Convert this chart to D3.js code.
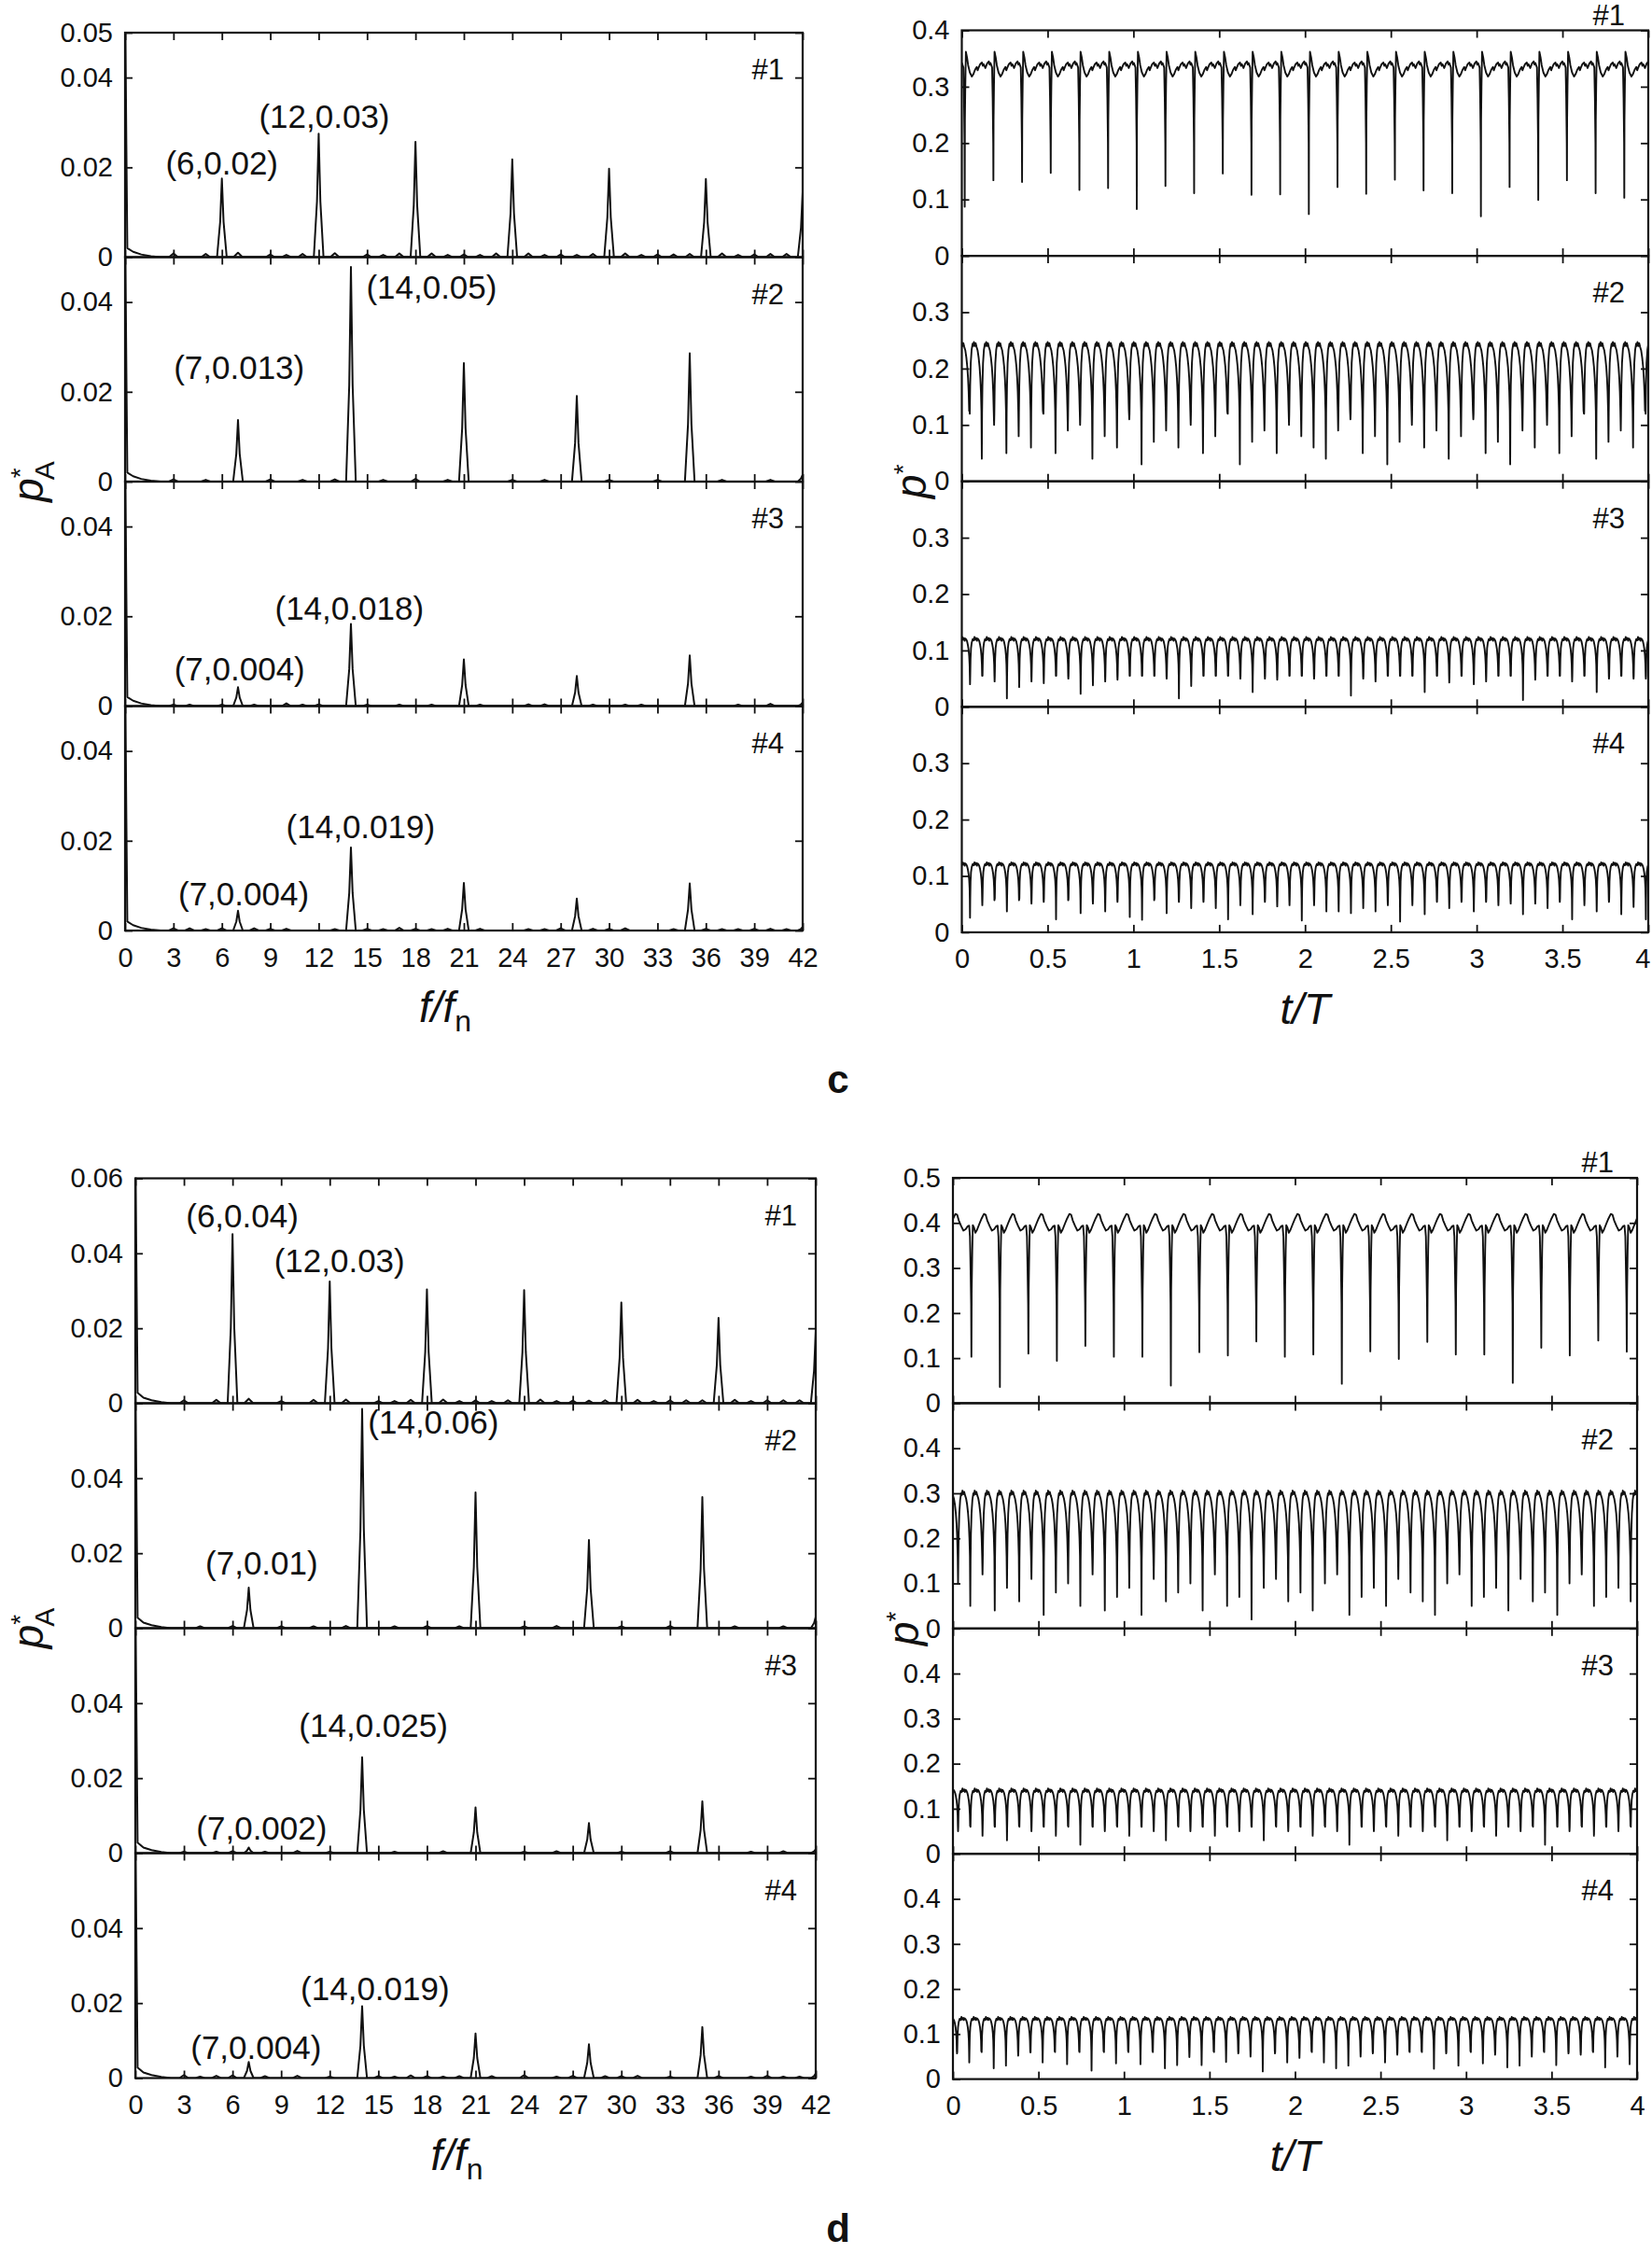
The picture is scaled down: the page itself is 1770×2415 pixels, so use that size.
<!DOCTYPE html>
<html>
<head>
<meta charset="utf-8">
<script src="https://cdn.jsdelivr.net/npm/d3@7"></script>
<style>
  body { margin: 0; background: #fff; }
  svg { display: block; }
</style>
</head>
<body>
<script>
// ---------- data ----------
const specTicks = [0, 3, 6, 9, 12, 15, 18, 21, 24, 27, 30, 33, 36, 39, 42];
const timeTicks = [0, 0.5, 1, 1.5, 2, 2.5, 3, 3.5, 4];

// spectrum peaks [f/fn, pA*] per sub panel #1..#4
const cPeaks = [
  [[6, 0.0175], [12, 0.0275], [18, 0.0257], [24, 0.0218], [30, 0.0197], [36, 0.0174], [42, 0.0145]],
  [[7, 0.0137], [14, 0.0478], [21, 0.0264], [28, 0.0191], [35, 0.0286], [42, 0.0015]],
  [[7, 0.0042], [14, 0.0183], [21, 0.0104], [28, 0.0067], [35, 0.0113], [42, 0.0008]],
  [[7, 0.0044], [14, 0.0185], [21, 0.0106], [28, 0.0071], [35, 0.0105], [42, 0.0008]]
];
const dPeaks = [
  [[6, 0.0451], [12, 0.0325], [18, 0.0304], [24, 0.0302], [30, 0.0269], [36, 0.0228], [42, 0.0192]],
  [[7, 0.0108], [14, 0.0585], [21, 0.0362], [28, 0.0235], [35, 0.0350], [42, 0.0030]],
  [[7, 0.0015], [14, 0.0256], [21, 0.0122], [28, 0.0080], [35, 0.0138], [42, 0.0010]],
  [[7, 0.0043], [14, 0.0192], [21, 0.0119], [28, 0.0090], [35, 0.0136], [42, 0.0012]]
];

// small side lobes [f/fn, pA*]
const cMinor = [
  [[3,.0008],[5,.0007],[7,.001],[9,.0006],[10,.0005],[11,.0007],[13,.0009],[15,.0006],[16,.0005],[17,.0008],[19,.0008],[20,.0005],[21,.0006],[22,.0005],[23,.0008],[25,.0008],[26,.0005],[27,.0006],[28,.0005],[29,.0007],[31,.0008],[32,.0005],[33,.0006],[34,.0006],[35,.0007],[37,.0008],[38,.0005],[39,.0006],[40,.0007],[41,.0007]],
  [[3,.0005],[5,.0004],[9,.0005],[11,.0004],[13,.0005],[16,.0004],[18,.0006],[20,.0004],[24,.0004],[26,.0004],[30,.0004],[33,.0004],[37,.0004],[40,.0004]],
  [[3,.0003],[4,.0003],[6,.0003],[8,.0003],[10,.0006],[11,.0003],[12,.0004],[15,.0003],[17,.0003],[19,.0003],[22,.0003],[25,.0004],[26,.0004],[29,.0003],[31,.0003],[32,.0003],[38,.0003],[40,.0005]],
  [[1,.0003],[3,.0005],[4,.0005],[5,.0003],[6,.0005],[8,.0005],[9,.0004],[10,.0004],[13,.0003],[15,.0004],[16,.0003],[17,.0006],[18,.0004],[19,.0003],[20,.0004],[22,.0004],[25,.0003],[26,.0003],[27,.0005],[29,.0004],[30,.0004],[31,.0005],[34,.0003],[36,.0004],[37,.0003],[38,.0003],[39,.0004],[40,.0004],[41,.0003]]
];
const dMinor = [
  [[1.5,.0012],[3,.0008],[5,.0009],[7,.0012],[9,.0006],[11,.0009],[13,.001],[15,.0006],[16,.0006],[17,.0009],[19,.001],[20,.0006],[21,.0008],[22,.0006],[23,.0008],[25,.001],[26,.0006],[27,.0007],[28,.0007],[29,.0008],[31,.0009],[32,.0006],[33,.0008],[34,.0008],[35,.0008],[37,.0009],[38,.0006],[39,.0008],[40,.0008],[41,.0008]],
  [[2,.0005],[4,.0005],[6,.0006],[9,.0005],[11,.0005],[13,.0006],[16,.0005],[18,.0006],[20,.0005],[24,.0005],[26,.0006],[30,.0005],[33,.0006],[37,.0005],[40,.0005]],
  [[2,.0005],[3,.0004],[5,.0004],[6,.0005],[8,.0004],[10,.0006],[12,.0004],[16,.0004],[19,.0005],[24,.0004],[26,.0005],[30,.0004],[33,.0005],[38,.0004],[40,.0005]],
  [[1,.0004],[2,.0006],[3,.0008],[4,.0004],[5,.0006],[6,.0007],[8,.0005],[10,.0006],[12,.0004],[15,.0005],[16,.0004],[17,.0007],[18,.0005],[19,.0004],[20,.0005],[22,.0005],[24,.0008],[26,.0004],[27,.0006],[29,.0005],[30,.0005],[31,.0006],[33,.0004],[36,.0005],[38,.0004],[39,.0006],[40,.0004],[41,.0004]]
];

// low frequency tail next to f = 0 [f/fn, pA*]
const cDcTail = [[0, 0.06], [0.08, 0.025], [0.14, 0.002], [0.5, 0.0012], [1.0, 0.0006], [1.6, 0.0002], [2.2, 0]];
const dDcTail = [[0, 0.07], [0.08, 0.031], [0.14, 0.0028], [0.5, 0.0015], [1.0, 0.0008], [1.6, 0.0003], [2.2, 0]];

// peak labels [sub panel, f/fn, pA* at text baseline, text]
const cNotes = [
  [0, 6.0, 0.0185, '(6,0.02)'], [0, 12.35, 0.0288, '(12,0.03)'],
  [1, 19.0, 0.0408, '(14,0.05)'], [1, 7.07, 0.0228, '(7,0.013)'],
  [2, 13.9, 0.0193, '(14,0.018)'], [2, 7.1, 0.0058, '(7,0.004)'],
  [3, 14.6, 0.0206, '(14,0.019)'], [3, 7.35, 0.0056, '(7,0.004)']
];
const dNotes = [
  [0, 6.6, 0.047, '(6,0.04)'], [0, 12.6, 0.0351, '(12,0.03)'],
  [1, 18.4, 0.052, '(14,0.06)'], [1, 7.8, 0.0144, '(7,0.01)'],
  [2, 14.7, 0.031, '(14,0.025)'], [2, 7.8, 0.0035, '(7,0.002)'],
  [3, 14.8, 0.0209, '(14,0.019)'], [3, 7.45, 0.0051, '(7,0.004)']
];

// pressure signals: first dip t/T, dip spacing, bottom of every dip
const cT0 = [0.017, 0.045, 0.048, 0.048];
const cDt = [0.1671, 0.0716, 0.0716, 0.0716];
const cMin1 = [0.087,0.134,0.131,0.147,0.117,0.120,0.083,0.124,0.111,0.146,0.108,0.109,0.074,0.122,0.110,0.135,0.116,0.111,0.070,0.122,0.099,0.134,0.111,0.103];
const cMin2 = [0.13,0.04,0.10,0.05,0.08,0.06,0.12,0.05,0.09,0.10,0.04,0.08,0.06,0.11,0.03,0.07,0.09,0.06,0.10,0.05,0.08,0.12,0.03,0.07,0.09,0.05,0.10,0.08,0.06,0.04,0.09,0.11,0.05,0.08,0.03,0.07,0.10,0.06,0.09,0.04,0.08,0.11,0.05,0.07,0.03,0.09,0.06,0.10,0.05,0.08,0.12,0.04,0.07,0.09,0.06,0.13];
const cMin3 = [0.040,0.060,0.045,0.015,0.035,0.045,0.042,0.055,0.050,0.023,0.038,0.045,0.048,0.055,0.060,0.057,0.050,0.015,0.037,0.055,0.057,0.055,0.050,0.026,0.050,0.048,0.055,0.060,0.050,0.060,0.057,0.020,0.050,0.045,0.055,0.057,0.055,0.026,0.055,0.043,0.057,0.040,0.045,0.055,0.060,0.012,0.048,0.057,0.055,0.045,0.055,0.026,0.050,0.057,0.050,0.050];
const cMin4 = [0.026,0.048,0.059,0.037,0.059,0.051,0.054,0.023,0.057,0.034,0.051,0.037,0.054,0.027,0.022,0.059,0.034,0.054,0.043,0.054,0.043,0.023,0.048,0.032,0.054,0.046,0.048,0.021,0.048,0.037,0.037,0.034,0.043,0.037,0.048,0.019,0.048,0.032,0.054,0.043,0.054,0.037,0.054,0.048,0.051,0.032,0.051,0.043,0.054,0.023,0.048,0.037,0.054,0.032,0.045,0.023];

const dT0 = [0.108, 0.03, 0.03, 0.024];
const dDt = [0.1666, 0.0715, 0.0715, 0.0715];
const dMin1 = [0.103,0.036,0.110,0.094,0.127,0.103,0.103,0.039,0.113,0.106,0.137,0.103,0.108,0.043,0.115,0.098,0.136,0.108,0.108,0.045,0.123,0.106,0.139,0.114];
const dMin2 = [0.10,0.05,0.12,0.04,0.09,0.06,0.11,0.03,0.08,0.10,0.05,0.12,0.04,0.07,0.09,0.03,0.11,0.06,0.08,0.10,0.04,0.12,0.05,0.07,0.02,0.09,0.11,0.06,0.08,0.04,0.10,0.12,0.03,0.07,0.09,0.05,0.11,0.08,0.06,0.03,0.10,0.12,0.05,0.07,0.09,0.04,0.11,0.06,0.08,0.03,0.10,0.12,0.05,0.07,0.09,0.06];
const dMin3 = [0.05,0.07,0.04,0.06,0.03,0.07,0.05,0.06,0.04,0.07,0.02,0.06,0.05,0.07,0.04,0.06,0.05,0.03,0.07,0.05,0.06,0.04,0.07,0.05,0.06,0.03,0.07,0.05,0.06,0.04,0.07,0.05,0.02,0.06,0.05,0.07,0.04,0.06,0.05,0.07,0.03,0.06,0.05,0.07,0.04,0.06,0.05,0.07,0.02,0.06,0.05,0.07,0.04,0.06,0.05,0.07];
const dMin4 = [0.057,0.037,0.074,0.024,0.030,0.052,0.059,0.037,0.063,0.033,0.064,0.019,0.071,0.035,0.071,0.033,0.078,0.024,0.031,0.049,0.031,0.061,0.038,0.057,0.050,0.017,0.057,0.037,0.047,0.071,0.037,0.024,0.030,0.050,0.057,0.037,0.054,0.061,0.078,0.023,0.057,0.030,0.078,0.035,0.054,0.026,0.030,0.050,0.064,0.031,0.057,0.054,0.078,0.026,0.050,0.033];

// one dip-to-dip cycle of each signal [phase, p*], null = bottom of the dip
const cShape1 = [[0,null],[0.006,0.24],[0.02,0.30],[0.04,0.362],[0.08,0.352],[0.12,0.338],[0.18,0.325],[0.25,0.318],[0.3,0.322],[0.36,0.33],[0.42,0.335],[0.45,0.329],[0.48,0.333],[0.54,0.34],[0.6,0.343],[0.63,0.337],[0.66,0.34],[0.72,0.333],[0.78,0.341],[0.84,0.345],[0.87,0.339],[0.9,0.342],[0.955,0.334],[0.975,0.28],[0.994,0.2]];
const cShape2 = [[0,null],[0.02,0.12],[0.05,0.17],[0.1,0.21],[0.17,0.233],[0.25,0.244],[0.3,0.24],[0.36,0.247],[0.44,0.24],[0.5,0.245],[0.58,0.238],[0.66,0.232],[0.74,0.22],[0.82,0.203],[0.88,0.183],[0.93,0.158],[0.97,0.125]];
const cShape3 = [[0,null],[0.015,0.055],[0.04,0.085],[0.08,0.104],[0.14,0.114],[0.22,0.12],[0.3,0.118],[0.36,0.124],[0.42,0.119],[0.5,0.122],[0.56,0.117],[0.62,0.121],[0.7,0.119],[0.76,0.116],[0.82,0.11],[0.88,0.102],[0.93,0.09],[0.965,0.075],[0.985,0.055]];
const cShape4 = [[0,null],[0.015,0.06],[0.04,0.09],[0.08,0.107],[0.14,0.116],[0.22,0.121],[0.3,0.119],[0.36,0.124],[0.42,0.12],[0.5,0.123],[0.56,0.118],[0.62,0.122],[0.7,0.12],[0.76,0.117],[0.82,0.112],[0.88,0.104],[0.93,0.093],[0.965,0.078],[0.985,0.057]];
const dShape1 = [[0,null],[0.01,0.25],[0.03,0.34],[0.05,0.395],[0.09,0.39],[0.14,0.378],[0.2,0.385],[0.28,0.398],[0.36,0.41],[0.44,0.42],[0.5,0.418],[0.56,0.405],[0.64,0.393],[0.72,0.383],[0.8,0.386],[0.86,0.392],[0.92,0.394],[0.95,0.37],[0.97,0.3],[0.99,0.22]];
const dShape2 = [[0,null],[0.02,0.15],[0.05,0.21],[0.1,0.255],[0.17,0.285],[0.25,0.3],[0.3,0.296],[0.36,0.306],[0.44,0.298],[0.5,0.303],[0.58,0.295],[0.66,0.288],[0.74,0.275],[0.82,0.255],[0.88,0.232],[0.93,0.2],[0.97,0.16]];
const dShape3 = [[0,null],[0.015,0.06],[0.04,0.095],[0.08,0.118],[0.14,0.132],[0.22,0.14],[0.3,0.137],[0.36,0.145],[0.42,0.139],[0.5,0.143],[0.56,0.137],[0.62,0.142],[0.7,0.139],[0.76,0.135],[0.82,0.128],[0.88,0.118],[0.93,0.104],[0.965,0.086],[0.985,0.062]];
const dShape4 = [[0,null],[0.015,0.06],[0.04,0.095],[0.08,0.115],[0.14,0.127],[0.22,0.134],[0.3,0.131],[0.36,0.138],[0.42,0.132],[0.5,0.136],[0.56,0.131],[0.62,0.135],[0.7,0.133],[0.76,0.13],[0.82,0.124],[0.88,0.115],[0.93,0.102],[0.965,0.085],[0.985,0.062]];

// ---------- drawing ----------
const FONT = '"Liberation Sans", Arial, Helvetica, sans-serif';
const INK = '#111';
const PAGE_W = 1770;

const svg = d3.select('body').append('svg')
  .attr('width', PAGE_W)
  .attr('height', 2415)
  .style('font-family', FONT);

const fmt = d => d === 0 ? '0' : String(+d.toFixed(3));
let clipCount = 0;

function panelFrame(g, xs, ys, xTicks, yTicks, showX) {
  const [x0, x1] = xs.range();
  const [y1, y0] = ys.range();

  const axes = [
    [d3.axisLeft(ys).tickValues(yTicks).tickPadding(13).tickFormat(fmt), `translate(${x0},0)`],
    [d3.axisRight(ys).tickValues(yTicks).tickFormat(''), `translate(${x1},0)`],
    [d3.axisTop(xs).tickValues(xTicks).tickFormat(''), `translate(0,${y0})`],
    [d3.axisBottom(xs).tickValues(xTicks).tickPadding(18).tickFormat(showX ? fmt : ''), `translate(0,${y1})`]
  ];
  axes.forEach(([axis, tr], k) => {
    const a = g.append('g')
      .attr('transform', tr)
      .call(axis.tickSize(-8))
      .attr('font-family', FONT)
      .attr('font-size', 29)
      .attr('color', INK);
    a.select('.domain').remove();
    a.selectAll('line').attr('stroke-width', 1.8);
    if (k === 3) {
      // keep the last label inside the page
      a.selectAll('text')
        .filter(d => xs(d) > PAGE_W - 12)
        .attr('text-anchor', 'end')
        .attr('dx', d => PAGE_W - 2 - xs(d));
    }
  });

  g.append('rect')
    .attr('x', x0).attr('y', y0)
    .attr('width', x1 - x0).attr('height', y1 - y0)
    .attr('fill', 'none')
    .attr('stroke', INK)
    .attr('stroke-width', 2.2);
}

function clipTo(g, xs, ys) {
  const id = 'clip' + (clipCount++);
  const [x0, x1] = xs.range();
  const [y1, y0] = ys.range();
  g.append('clipPath').attr('id', id)
    .append('rect').attr('x', x0).attr('y', y0 - 1).attr('width', x1 - x0).attr('height', y1 - y0 + 1);
  return `url(#${id})`;
}

// spectrum line: low-frequency tail, then a narrow spike for every lobe
function spectrumPoints(tail, peaks, minor) {
  const pts = tail.slice();
  const lobes = peaks.map(p => [p[0], p[1], 0.3, true])
    .concat(minor.map(p => [p[0], p[1], 0.28, false]))
    .filter(p => p[0] > tail[tail.length - 1][0])
    .sort((a, b) => a[0] - b[0]);
  lobes.forEach(([f, a, w, big]) => {
    pts.push([f - w, 0]);
    if (big) pts.push([f - w * 0.35, a * 0.45]);
    pts.push([f, a]);
    if (big) pts.push([f + w * 0.35, a * 0.45]);
    pts.push([f + w, 0]);
  });
  pts.push([42.5, 0]);
  return pts;
}

function drawSpectra(cfg) {
  const g = svg.append('g');
  const xs = d3.scaleLinear().domain([0, 42]).range([cfg.x0, cfg.x1]);
  for (let i = 0; i < 4; i++) {
    const yTop = cfg.top + i * cfg.h;
    const ys = d3.scaleLinear().domain([0, cfg.yMax]).range([yTop + cfg.h, yTop]);
    const yTicks = i === 0 ? cfg.firstTicks : cfg.ticks;
    panelFrame(g, xs, ys, specTicks, yTicks, i === 3);

    const line = d3.line().x(d => xs(d[0])).y(d => ys(d[1]));
    g.append('path')
      .attr('clip-path', clipTo(g, xs, ys))
      .attr('d', line(spectrumPoints(cfg.tail, cfg.peaks[i], cfg.minor[i])))
      .attr('fill', 'none')
      .attr('stroke', INK)
      .attr('stroke-width', 2)
      .attr('stroke-linejoin', 'round');

    g.selectAll(null)
      .data(cfg.notes.filter(n => n[0] === i))
      .join('text')
      .attr('x', d => xs(d[1]))
      .attr('y', d => ys(d[2]))
      .attr('text-anchor', 'middle')
      .attr('font-size', 35)
      .attr('fill', INK)
      .text(d => d[3]);

    g.append('text')
      .attr('x', cfg.x1 - 20)
      .attr('y', yTop + 50)
      .attr('text-anchor', 'end')
      .attr('font-size', 31)
      .attr('fill', INK)
      .text('#' + (i + 1));
  }
  // axis titles
  const xt = g.append('text')
    .attr('x', (cfg.x0 + cfg.x1) / 2 - 20)
    .attr('y', cfg.top + 4 * cfg.h + 98)
    .attr('text-anchor', 'middle')
    .attr('font-size', 46)
    .attr('fill', INK);
  xt.append('tspan').attr('font-style', 'italic').text('f/f');
  xt.append('tspan').attr('font-size', 32).attr('dy', 10).text('n');

  const yt = g.append('text')
    .attr('transform', `translate(${cfg.yTitleX},${cfg.top + 2 * cfg.h}) rotate(-90)`)
    .attr('text-anchor', 'middle')
    .attr('font-size', 46)
    .attr('fill', INK);
  yt.append('tspan').attr('font-style', 'italic').text('p');
  yt.append('tspan').attr('font-size', 28).attr('dy', -15).text('*');
  yt.append('tspan').attr('font-size', 30).attr('dx', -13).attr('dy', 27).text('A');
}

// pressure trace: repeat the cycle shape between dips, each dip at its own bottom
function wavePoints(t0, dt, mins, shape) {
  const pts = [];
  for (let k = -1; k <= mins.length; k++) {
    const m = mins[Math.max(0, Math.min(mins.length - 1, k))];
    shape.forEach(([ph, v]) => pts.push([t0 + (k + ph) * dt, v === null ? m : v]));
  }
  return pts.filter(p => p[0] > -0.2 && p[0] < 4.2);
}

function drawTraces(cfg) {
  const g = svg.append('g');
  const xs = d3.scaleLinear().domain([0, 4]).range([cfg.x0, cfg.x1]);
  for (let i = 0; i < 4; i++) {
    const yTop = cfg.top + i * cfg.h;
    const ys = d3.scaleLinear().domain([0, cfg.yMax]).range([yTop + cfg.h, yTop]);
    const yTicks = i === 0 ? cfg.firstTicks : cfg.ticks;
    panelFrame(g, xs, ys, timeTicks, yTicks, i === 3);

    const line = d3.line().x(d => xs(d[0])).y(d => ys(d[1]));
    g.append('path')
      .attr('clip-path', clipTo(g, xs, ys))
      .attr('d', line(wavePoints(cfg.t0[i], cfg.dt[i], cfg.mins[i], cfg.shapes[i])))
      .attr('fill', 'none')
      .attr('stroke', INK)
      .attr('stroke-width', 1.9)
      .attr('stroke-linejoin', 'round');

    g.append('text')
      .attr('x', cfg.x1 - 25)
      .attr('y', i === 0 ? yTop - 6 : yTop + 50)
      .attr('text-anchor', 'end')
      .attr('font-size', 31)
      .attr('fill', INK)
      .text('#' + (i + 1));
  }
  g.append('text')
    .attr('x', (cfg.x0 + cfg.x1) / 2)
    .attr('y', cfg.top + 4 * cfg.h + 98)
    .attr('text-anchor', 'middle')
    .attr('font-size', 46)
    .attr('font-style', 'italic')
    .attr('fill', INK)
    .text('t/T');

  const yt = g.append('text')
    .attr('transform', `translate(${cfg.yTitleX},${cfg.top + 2 * cfg.h}) rotate(-90)`)
    .attr('text-anchor', 'middle')
    .attr('font-size', 46)
    .attr('fill', INK);
  yt.append('tspan').attr('font-style', 'italic').text('p');
  yt.append('tspan').attr('font-size', 28).attr('dy', -15).text('*');
}

drawSpectra({
  x0: 134, x1: 860, top: 35, h: 240.5, yMax: 0.05, yTitleX: 46,
  firstTicks: [0, 0.02, 0.04, 0.05], ticks: [0, 0.02, 0.04],
  peaks: cPeaks, minor: cMinor, tail: cDcTail, notes: cNotes
});
drawTraces({
  x0: 1030.5, x1: 1766, top: 32.5, h: 241.6, yMax: 0.4, yTitleX: 992,
  firstTicks: [0, 0.1, 0.2, 0.3, 0.4], ticks: [0, 0.1, 0.2, 0.3],
  t0: cT0, dt: cDt, mins: [cMin1, cMin2, cMin3, cMin4], shapes: [cShape1, cShape2, cShape3, cShape4]
});
drawSpectra({
  x0: 145, x1: 874, top: 1262.5, h: 241, yMax: 0.06, yTitleX: 46,
  firstTicks: [0, 0.02, 0.04, 0.06], ticks: [0, 0.02, 0.04],
  peaks: dPeaks, minor: dMinor, tail: dDcTail, notes: dNotes
});
drawTraces({
  x0: 1021, x1: 1754, top: 1262, h: 241.4, yMax: 0.5, yTitleX: 984,
  firstTicks: [0, 0.1, 0.2, 0.3, 0.4, 0.5], ticks: [0, 0.1, 0.2, 0.3, 0.4],
  t0: dT0, dt: dDt, mins: [dMin1, dMin2, dMin3, dMin4], shapes: [dShape1, dShape2, dShape3, dShape4]
});

// figure part letters
[['c', 1171], ['d', 2402]].forEach(([s, y]) => {
  svg.append('text')
    .attr('x', 898).attr('y', y)
    .attr('text-anchor', 'middle')
    .attr('font-size', 42)
    .attr('font-weight', 'bold')
    .attr('fill', INK)
    .text(s);
});
</script>
</body>
</html>
